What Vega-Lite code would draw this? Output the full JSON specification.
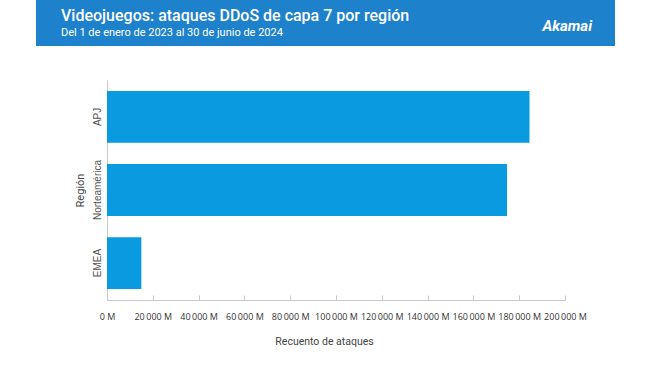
{
  "$schema": "https://vega.github.io/schema/vega-lite/v6.json",
  "padding": {"left": 36, "top": 0, "right": 0, "bottom": 0},
  "background": "white",
  "config": {"view": {"stroke": null}, "font": "Roboto"},
  "title": {"text": "Akamai", "anchor": "end", "orient": "top", "offset": -34, "dx": -23, "color": "white", "font": "Roboto", "fontSize": 15, "fontWeight": "bold", "fontStyle": "italic", "frame": "bounds"},
  "spacing": 34,
  "vconcat": [
    {
      "width": 579,
      "height": 46,
      "view": {"fill": "#1d81cc", "stroke": null},
      "title": {
        "text": "Videojuegos: ataques DDoS de capa 7 por región",
        "subtitle": "Del 1 de enero de 2023 al 30 de junio de 2024",
        "anchor": "start",
        "offset": -38,
        "dx": 25,
        "font": "Roboto",
        "fontSize": 16,
        "fontWeight": 500,
        "color": "white",
        "subtitleFont": "Roboto",
        "subtitleFontSize": 11,
        "subtitleColor": "white",
        "subtitlePadding": 3
      },
      "data": {"values": [{"t": " "}]},
      "mark": {"type": "text"},
      "encoding": {"text": {"field": "t"}}
    },
    {
      "width": 529,
      "height": 220,
      "data": {
        "values": [
          {"region": "APJ", "ataques": 184500},
          {"region": "Norteamérica", "ataques": 174700},
          {"region": "EMEA", "ataques": 15000}
        ]
      },
      "mark": {"type": "bar", "color": "#0a9ae0"},
      "encoding": {
        "y": {
          "field": "region",
          "type": "nominal",
          "sort": ["APJ", "Norteamérica", "EMEA"],
          "title": "Región",
          "scale": {"paddingInner": 0.29, "paddingOuter": 0.15},
          "axis": {
            "offset": -71,
            "labelAngle": -90,
            "ticks": false,
            "domainColor": "#c8c8c8",
            "labelFont": "Liberation Sans",
            "labelFontSize": 10,
            "labelColor": "#555555",
            "labelPadding": 5,
            "titleFont": "Roboto",
            "titleFontSize": 11,
            "titleFontWeight": "normal",
            "titleColor": "#444444",
            "titleX": -22
          }
        },
        "x": {
          "field": "ataques",
          "type": "quantitative",
          "title": "Recuento de ataques",
          "scale": {"domain": [0, 200000], "nice": false, "range": [71, 529]},
          "axis": {
            "values": [0, 20000, 40000, 60000, 80000, 100000, 120000, 140000, 160000, 180000, 200000],
            "grid": false,
            "tickSize": -5,
            "tickColor": "#c8c8c8",
            "domainColor": "#c8c8c8",
            "labelExpr": "replace(format(datum.value, ',d'), ',', '\u2009') + ' M'",
            "labelFont": "Open Sans",
            "labelFontSize": 9,
            "labelColor": "#333333",
            "labelPadding": 17,
            "labelOverlap": false,
            "labelFlush": false,
            "titleFont": "Roboto",
            "titleFontSize": 10.5,
            "titleFontWeight": "normal",
            "titleColor": "#444444",
            "titlePadding": 15,
            "titleX": 288
          }
        }
      }
    }
  ]
}
